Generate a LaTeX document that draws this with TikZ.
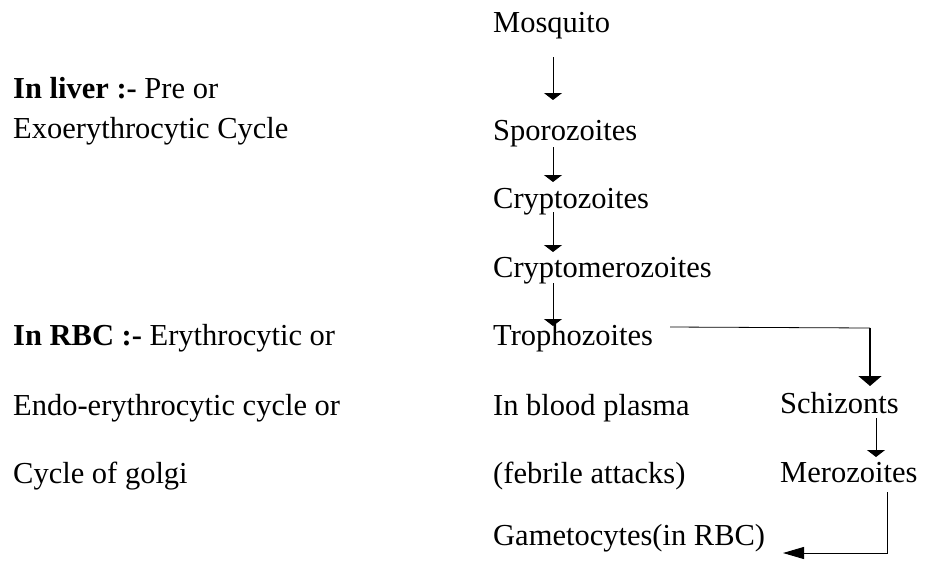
\documentclass[tikz,border=0pt]{standalone}
\usepackage{fontspec}
\setmainfont{Liberation Serif}
\usepackage{tikz}
\usetikzlibrary{calc,arrows.meta,positioning}

\begin{document}
\begin{tikzpicture}[x=1pt, y=-1pt,
    every node/.style={anchor=base west, inner sep=0pt, font=\fontsize{30.5}{36}\selectfont},
    arr/.style={line width=0.9pt, -{Triangle[width=18pt, length=7pt]}},
    arrbig/.style={line width=1.8pt, -{Triangle[width=23pt, length=10pt]}},
    arrside/.style={line width=1pt, -{Triangle[width=12pt, length=21pt]}}]
    \useasboundingbox (0,0) rectangle (925,562);

    % Left column: where the cycle happens
    \node (liverA) at (13,98) {\textbf{In liver :-} Pre or};
    \node (liverB) at (13,138) {Exoerythrocytic Cycle};
    \node (rbcA) at (13,345) {\textbf{In RBC :-} Erythrocytic or};
    \node (rbcB) at (13,415) {Endo-erythrocytic cycle or};
    \node (rbcC) at (13,483) {Cycle of golgi};

    % Main stages
    \node (mosq) at (493,32) {Mosquito};
    \node (sporo) at (493,140) {Sporozoites};
    \node (crypto) at (493,208) {Cryptozoites};
    \node (cmero) at (493,277) {Cryptomerozoites};
    \node (tropho) at (493,345) {Trophozoites};
    \node (plasma) at (493,415) {In blood plasma};
    \node (febrile) at (493,483) {(febrile attacks)};
    \node (game) at (493,545) {Gametocytes(in RBC)};

    % Right branch
    \node (schiz) at (780,413) {Schizonts};
    \node (mero) at (780,482) {Merozoites};

    % Arrows down the main column
    \draw[arr] ($(mosq.base west)+(60,25)$) -- ($(sporo.base west)+(60,-40)$);
    \draw[arr] ($(sporo.base west)+(60,7)$) -- ($(crypto.base west)+(60,-26)$);
    \draw[arr] ($(crypto.base west)+(60,4)$) -- ($(cmero.base west)+(60,-25)$);
    \draw[arr] ($(cmero.base west)+(60,6)$) -- ($(tropho.base west)+(60,-19)$);

    % Trophozoites to Schizonts
    \coordinate (turn) at ($(schiz.base west)+(90,-85)$);
    \draw[line width=0.8pt] ($(tropho.base west)+(177,-18)$) -- (turn);
    \draw[arrbig] (turn) -- ($(schiz.base west)+(90,-27)$);

    % Schizonts to Merozoites
    \draw[arr] ($(schiz.base west)+(96,5)$) -- ($(mero.base west)+(96,-25)$);

    % Merozoites back to Gametocytes
    \draw[arrside] ($(mero.base west)+(107,10)$) |- ($(game.base west)+(290,8)$);
\end{tikzpicture}
\end{document}
